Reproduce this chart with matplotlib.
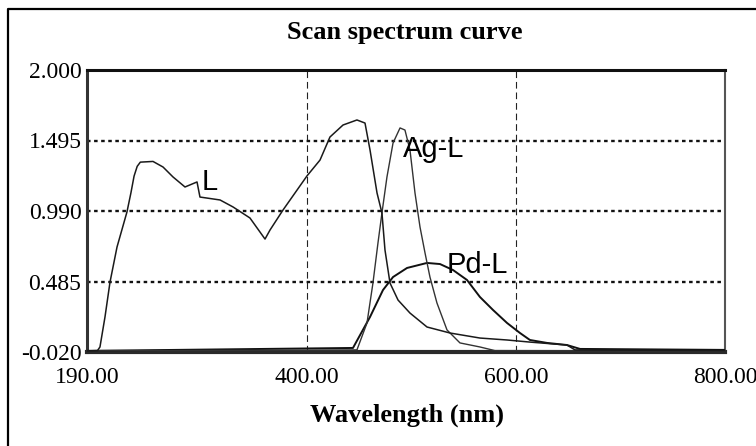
import matplotlib
matplotlib.use("Agg")
import matplotlib.pyplot as plt
from matplotlib.lines import Line2D

# Absorbance scans (wavelength in nm)
wl_L = [190, 200, 202.4, 207.2, 212.0, 218.7, 228.2, 232.0, 235.0, 238.0, 241.0,
        253.1, 262.7, 272.2, 283.7, 295.2, 298.0, 317.2, 329.6, 345.8, 360.2,
        365.0, 377.4, 400.3, 412.8, 422.3, 434.8, 448.1, 455.8, 460.6, 467.3,
        472.0, 474.9, 479.7, 487.4, 498.8, 515.1, 537.1, 565.7, 591.6, 613.5,
        648.9, 656.6, 800]
abs_L = [-0.012, -0.010, 0.016, 0.231, 0.481, 0.732, 0.983, 1.12, 1.24, 1.31, 1.34,
         1.345, 1.305, 1.234, 1.162, 1.198, 1.090, 1.069, 1.019, 0.940, 0.789,
         0.854, 0.997, 1.241, 1.355, 1.520, 1.606, 1.642, 1.620, 1.427, 1.119,
         0.976, 0.711, 0.474, 0.352, 0.259, 0.159, 0.116, 0.080, 0.066, 0.051,
         0.030, -0.005, -0.010]

wl_Ag = [190, 448.1, 457.7, 463.4, 468.2, 472.0, 476.8, 482.6, 489.3, 494.0,
         498.8, 503.6, 508.4, 513.2, 517.9, 524.6, 534.2, 546.6, 565.7, 580, 800]
abs_Ag = [-0.012, -0.005, 0.188, 0.474, 0.761, 0.976, 1.234, 1.477, 1.585, 1.570,
          1.427, 1.119, 0.875, 0.689, 0.517, 0.331, 0.138, 0.045, 0.016, -0.010, -0.012]

wl_Pd = [190, 444.3, 460.6, 473.0, 482.6, 496.0, 515.1, 527.5, 540.0, 553.3,
         565.7, 578.2, 591.6, 604.0, 613.5, 629.8, 648.9, 661.4, 800]
abs_Pd = [-0.012, 0.009, 0.231, 0.424, 0.517, 0.582, 0.618, 0.610, 0.567, 0.496,
          0.374, 0.281, 0.188, 0.116, 0.066, 0.045, 0.030, 0.002, -0.005]

# Curve names and where each name is written (wavelength, absorbance)
curve_names = ["L", "Ag-L", "Pd-L"]
name_pos = [(300, 1.14), (492, 1.377), (534, 0.545)]

x_ticks = [190, 400, 600, 800]
x_tick_labels = ["190.00", "400.00", "600.00", "800.00"]
y_ticks = [-0.020, 0.485, 0.990, 1.495, 2.000]
y_tick_labels = ["-0.020", "0.485", "0.990", "1.495", "2.000"]

serif = ["Liberation Serif", "DejaVu Serif"]
label_font = ["Liberation Sans Narrow", "Liberation Sans", "DejaVu Sans"]

fig = plt.figure(figsize=(7.56, 4.46), dpi=100)
ax = fig.add_axes([87 / 756, 94 / 446, 638 / 756, 282 / 446])

ax.set_xlim(190, 800)
ax.set_ylim(-0.020, 2.000)

# grid: dashed verticals at inner x ticks, dotted horizontals at inner y ticks
for xv in x_ticks[1:-1]:
    ax.axvline(xv, color="#222222", lw=0.8, ls=(0, (6, 3.5)), zorder=1)
for yv in y_ticks[1:-1]:
    ax.axhline(yv, color="#111111", lw=1.7, ls=(0, (1.5, 1.5)), zorder=1)

ax.plot(wl_Pd, abs_Pd, color="#111111", lw=1.4, zorder=3)
ax.plot(wl_Ag, abs_Ag, color="#333333", lw=1.0, zorder=3)
ax.plot(wl_L, abs_L, color="#1a1a1a", lw=1.1, zorder=3)

for name, (xn, yn) in zip(curve_names, name_pos):
    ax.text(xn, yn, name, family=label_font, fontsize=21, color="black",
            ha="left", va="baseline", zorder=4)

ax.set_xticks(x_ticks)
ax.set_xticklabels(x_tick_labels, family=serif, fontsize=17)
ax.set_yticks(y_ticks)
ax.set_yticklabels(y_tick_labels, family=serif, fontsize=17)
ax.tick_params(axis="x", length=0, pad=11)
ax.tick_params(axis="y", length=0, pad=4)

ax.spines["left"].set_linewidth(2.2)
ax.spines["left"].set_color("#333333")
ax.spines["top"].set_linewidth(2.2)
ax.spines["top"].set_color("#111111")
ax.spines["right"].set_linewidth(1.5)
ax.spines["right"].set_color("#555555")
ax.spines["bottom"].set_linewidth(3.0)
ax.spines["bottom"].set_color("#2a2a2a")

fig.text(405 / 756, 1 - 33 / 446, "Scan spectrum curve", family=serif,
         fontsize=19, fontweight="bold", ha="center", va="center")
fig.text(407 / 756, 1 - 415 / 446, "Wavelength (nm)", family=serif,
         fontsize=19, fontweight="bold", ha="center", va="center")

# outer frame (open towards the right and bottom edges)
fig.add_artist(Line2D([8 / 756, 8 / 756, 1.01], [-0.01, 1 - 9 / 446, 1 - 9 / 446],
                      transform=fig.transFigure, color="black", lw=1.6))

fig.savefig("out.png", dpi=100)
